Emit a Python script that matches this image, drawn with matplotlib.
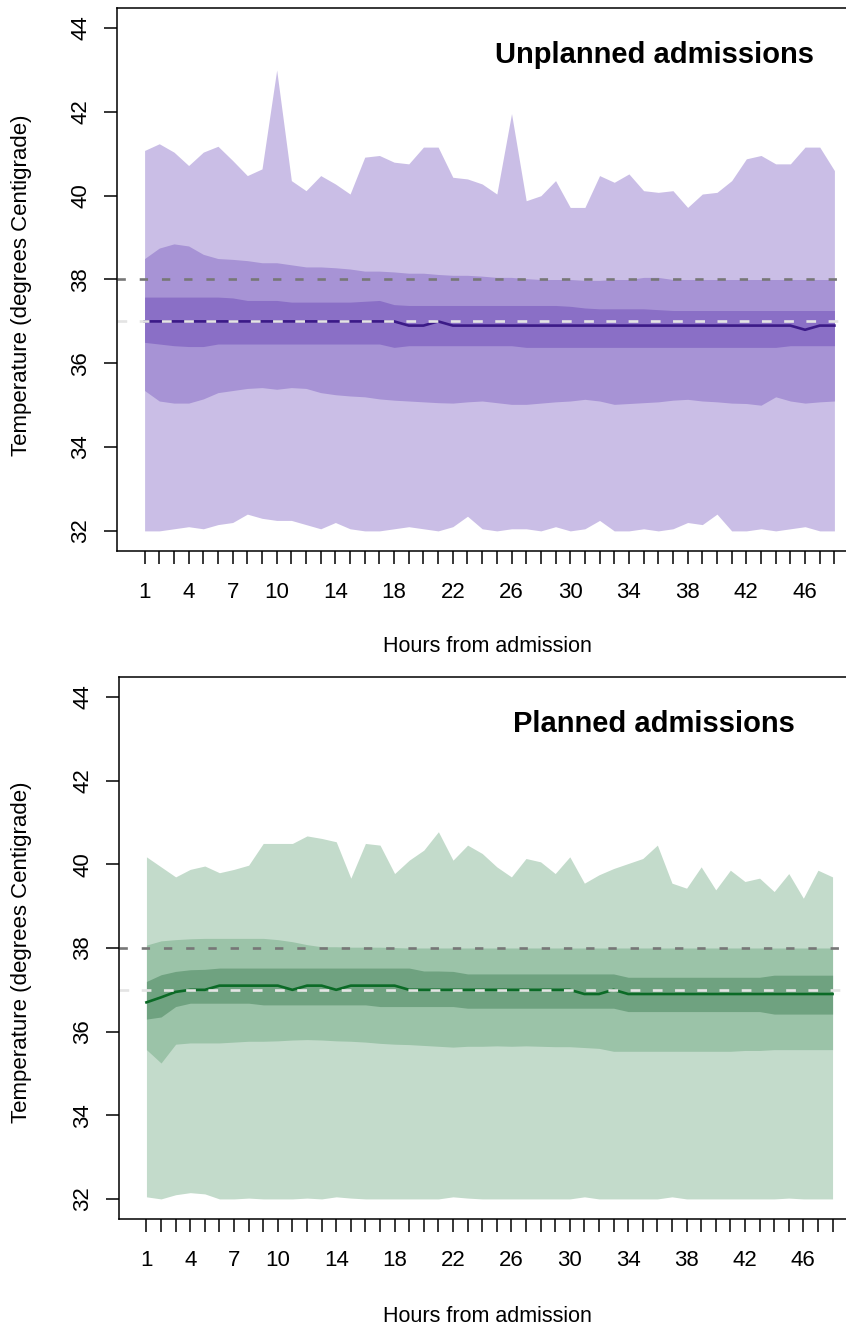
import matplotlib
matplotlib.use("Agg")
import matplotlib.pyplot as plt

plt.rcParams['font.family'] = ['Liberation Sans', 'DejaVu Sans']
plt.rcParams['lines.scale_dashes'] = False

hours = list(range(1, 49))
x_tick_labels = ['1', '4', '7', '10', '14', '18', '22', '26', '30', '34', '38', '42', '46']
y_ticks = [32, 34, 36, 38, 40, 42, 44]

# ---------------- Unplanned admissions ----------------
unplanned_max = [41.08, 41.24, 41.04, 40.72, 41.04, 41.18, 40.84, 40.48, 40.64, 43.0,
                 40.36, 40.12, 40.48, 40.28, 40.04, 40.92, 40.96, 40.8, 40.76, 41.16,
                 41.16, 40.44, 40.4, 40.28, 40.04, 41.96, 39.88, 40.0, 40.36, 39.72,
                 39.72, 40.48, 40.32, 40.52, 40.12, 40.08, 40.12, 39.72, 40.04, 40.08,
                 40.36, 40.88, 40.96, 40.76, 40.76, 41.16, 41.16, 40.6]
unplanned_p95 = [38.5, 38.75, 38.85, 38.8, 38.6, 38.5, 38.48, 38.45, 38.4, 38.4,
                 38.35, 38.3, 38.3, 38.28, 38.25, 38.2, 38.2, 38.18, 38.15, 38.15,
                 38.12, 38.1, 38.1, 38.08, 38.05, 38.05, 38.02, 38.0, 38.0, 38.0,
                 37.98, 37.98, 38.0, 38.0, 38.05, 38.05, 38.0, 38.0, 38.0, 38.0,
                 38.0, 38.0, 38.0, 38.0, 38.0, 38.0, 38.0, 38.0]
unplanned_p75 = [37.58, 37.58, 37.58, 37.58, 37.58, 37.58, 37.56, 37.5, 37.5, 37.5,
                 37.46, 37.46, 37.46, 37.46, 37.46, 37.48, 37.5, 37.4, 37.38, 37.38,
                 37.38, 37.38, 37.38, 37.38, 37.38, 37.38, 37.38, 37.38, 37.38, 37.36,
                 37.32, 37.3, 37.3, 37.3, 37.3, 37.28, 37.26, 37.26, 37.26, 37.26,
                 37.26, 37.26, 37.26, 37.26, 37.26, 37.26, 37.26, 37.26]
unplanned_median = [37.0, 37.0, 37.0, 37.0, 37.0, 37.0, 37.0, 37.0, 37.0, 37.0,
                    37.0, 37.0, 37.0, 37.0, 37.0, 37.0, 37.0, 37.0, 36.9, 36.9,
                    37.0, 36.9, 36.9, 36.9, 36.9, 36.9, 36.9, 36.9, 36.9, 36.9,
                    36.9, 36.9, 36.9, 36.9, 36.9, 36.9, 36.9, 36.9, 36.9, 36.9,
                    36.9, 36.9, 36.9, 36.9, 36.9, 36.8, 36.9, 36.9]
unplanned_p25 = [36.5, 36.46, 36.42, 36.4, 36.4, 36.46, 36.46, 36.46, 36.46, 36.46,
                 36.46, 36.46, 36.46, 36.46, 36.46, 36.46, 36.46, 36.38, 36.42, 36.42,
                 36.42, 36.42, 36.42, 36.42, 36.42, 36.42, 36.38, 36.38, 36.38, 36.38,
                 36.38, 36.38, 36.38, 36.38, 36.38, 36.38, 36.38, 36.38, 36.38, 36.38,
                 36.38, 36.38, 36.38, 36.38, 36.42, 36.42, 36.42, 36.42]
unplanned_p5 = [35.35, 35.1, 35.05, 35.05, 35.15, 35.3, 35.35, 35.4, 35.42, 35.38,
                35.42, 35.4, 35.3, 35.25, 35.22, 35.2, 35.15, 35.12, 35.1, 35.08,
                35.06, 35.05, 35.08, 35.1, 35.06, 35.02, 35.02, 35.05, 35.08, 35.1,
                35.14, 35.1, 35.02, 35.04, 35.06, 35.08, 35.12, 35.14, 35.1, 35.08,
                35.05, 35.04, 35.0, 35.2, 35.1, 35.05, 35.08, 35.1]
unplanned_min = [32.0, 32.0, 32.05, 32.1, 32.05, 32.15, 32.2, 32.4, 32.3, 32.25,
                 32.25, 32.15, 32.05, 32.2, 32.05, 32.0, 32.0, 32.05, 32.1, 32.05,
                 32.0, 32.1, 32.35, 32.05, 32.0, 32.05, 32.05, 32.0, 32.1, 32.0,
                 32.05, 32.25, 32.0, 32.0, 32.05, 32.0, 32.05, 32.2, 32.15, 32.4,
                 32.0, 32.0, 32.05, 32.0, 32.05, 32.1, 32.0, 32.0]

# ---------------- Planned admissions ----------------
planned_max = [40.18, 39.94, 39.7, 39.88, 39.96, 39.8, 39.88, 39.98, 40.5, 40.5,
               40.5, 40.68, 40.62, 40.54, 39.67, 40.5, 40.46, 39.78, 40.1, 40.34,
               40.78, 40.1, 40.46, 40.26, 39.94, 39.7, 40.14, 40.06, 39.78, 40.18,
               39.55, 39.75, 39.9, 40.02, 40.14, 40.46, 39.55, 39.43, 39.94, 39.39,
               39.86, 39.59, 39.67, 39.35, 39.78, 39.19, 39.86, 39.7]
planned_p95 = [38.07, 38.17, 38.2, 38.22, 38.23, 38.23, 38.23, 38.23, 38.23, 38.2,
               38.15, 38.08, 38.03, 38.03, 38.02, 38.02, 38.02, 38.01, 38.0, 38.0,
               38.0, 38.0, 38.0, 38.0, 38.0, 38.0, 38.0, 38.0, 38.0, 38.0,
               38.0, 38.0, 38.0, 38.0, 38.0, 38.0, 38.0, 38.0, 38.0, 38.0,
               38.0, 38.0, 38.0, 38.0, 38.0, 38.0, 38.0, 38.0]
planned_p75 = [37.2, 37.36, 37.44, 37.48, 37.49, 37.52, 37.52, 37.52, 37.52, 37.52,
               37.52, 37.52, 37.52, 37.52, 37.52, 37.52, 37.52, 37.52, 37.52, 37.45,
               37.45, 37.44, 37.38, 37.38, 37.38, 37.38, 37.38, 37.38, 37.38, 37.38,
               37.38, 37.38, 37.38, 37.3, 37.3, 37.3, 37.3, 37.3, 37.3, 37.3,
               37.3, 37.3, 37.3, 37.35, 37.35, 37.35, 37.35, 37.35]
planned_median = [36.7, 36.82, 36.95, 37.0, 37.0, 37.1, 37.1, 37.1, 37.1, 37.1,
                  37.0, 37.1, 37.1, 37.0, 37.1, 37.1, 37.1, 37.1, 37.0, 37.0,
                  37.0, 37.0, 37.0, 37.0, 37.0, 37.0, 37.0, 37.0, 37.0, 37.0,
                  36.9, 36.9, 37.0, 36.9, 36.9, 36.9, 36.9, 36.9, 36.9, 36.9,
                  36.9, 36.9, 36.9, 36.9, 36.9, 36.9, 36.9, 36.9]
planned_p25 = [36.3, 36.35, 36.6, 36.68, 36.68, 36.68, 36.68, 36.68, 36.64, 36.64,
               36.64, 36.64, 36.64, 36.64, 36.64, 36.64, 36.6, 36.6, 36.6, 36.6,
               36.6, 36.6, 36.56, 36.56, 36.56, 36.56, 36.56, 36.56, 36.56, 36.56,
               36.56, 36.56, 36.56, 36.48, 36.48, 36.48, 36.48, 36.48, 36.48, 36.48,
               36.48, 36.48, 36.48, 36.42, 36.42, 36.42, 36.42, 36.42]
planned_p5 = [35.57, 35.25, 35.7, 35.73, 35.73, 35.73, 35.75, 35.77, 35.77, 35.78,
              35.8, 35.81, 35.8, 35.78, 35.77, 35.75, 35.72, 35.7, 35.69, 35.67,
              35.65, 35.63, 35.65, 35.65, 35.66, 35.65, 35.66, 35.65, 35.64, 35.64,
              35.62, 35.6, 35.53, 35.53, 35.53, 35.53, 35.53, 35.53, 35.53, 35.53,
              35.53, 35.55, 35.55, 35.57, 35.57, 35.57, 35.57, 35.57]
planned_min = [32.05, 32.0, 32.1, 32.15, 32.12, 32.0, 32.0, 32.02, 32.0, 32.0,
               32.0, 32.02, 32.0, 32.05, 32.02, 32.0, 32.0, 32.0, 32.0, 32.0,
               32.0, 32.05, 32.02, 32.0, 32.0, 32.0, 32.0, 32.0, 32.0, 32.0,
               32.05, 32.0, 32.0, 32.0, 32.0, 32.0, 32.05, 32.0, 32.0, 32.0,
               32.0, 32.0, 32.0, 32.0, 32.02, 32.0, 32.0, 32.0]

purple = ['#cabee6', '#a793d5', '#8a6fc6', '#3b1a87']
green = ['#c3dbcb', '#9bc3a8', '#6fa280', '#0b6a26']

W, H = 846, 1328
fig = plt.figure(figsize=(W / 100, H / 100), dpi=100)


def panel(px_left, px_top, px_w, px_h, title, mx, p95, p75, med, p25, p5, mn, cols):
    ax = fig.add_axes([px_left / W, 1 - (px_top + px_h) / H, px_w / W, px_h / H])
    ax.fill_between(hours, mn, mx, color=cols[0], lw=0)
    ax.fill_between(hours, p5, p95, color=cols[1], lw=0)
    ax.fill_between(hours, p25, p75, color=cols[2], lw=0)
    ax.plot(hours, med, color=cols[3], lw=1.9)
    ax.axhline(38, color='#777777', lw=1.9, dashes=(6, 10))
    ax.axhline(37, color='#e4e4e4', lw=1.9, dashes=(7, 9))
    ax.set_xlim(-0.88, 49.88)
    ax.set_ylim(31.52, 44.48)
    ax.set_xticks(hours)
    lab = [str(h) if str(h) in x_tick_labels else '' for h in hours]
    ax.set_xticklabels(lab, fontsize=16)
    ax.set_yticks(y_ticks)
    ax.set_yticklabels([str(v) for v in y_ticks], fontsize=16, rotation=90, va='center')
    ax.tick_params(axis='x', length=9.5, width=1.1, pad=13)
    ax.tick_params(axis='y', length=9.5, width=1.1, pad=9)
    for s in ['left', 'top', 'bottom', 'right']:
        ax.spines[s].set_linewidth(1.1)
    ax.text(0.722, 0.913, title, transform=ax.transAxes, ha='center', va='center',
            fontsize=21, fontweight='bold')
    return ax


panel(117, 8, 745, 543, 'Unplanned admissions', unplanned_max, unplanned_p95,
      unplanned_p75, unplanned_median, unplanned_p25, unplanned_p5, unplanned_min, purple)
panel(119, 677, 741, 542, 'Planned admissions', planned_max, planned_p95,
      planned_p75, planned_median, planned_p25, planned_p5, planned_min, green)

for yc in (285, 952):
    fig.text(22 / W, 1 - yc / H, 'Temperature (degrees Centigrade)', rotation=90,
             ha='center', va='center', fontsize=16)
for yc in (647, 1316):
    fig.text(487 / W, 1 - yc / H, 'Hours from admission', ha='center', va='center',
             fontsize=15.5)

fig.savefig('out.png', dpi=100)
